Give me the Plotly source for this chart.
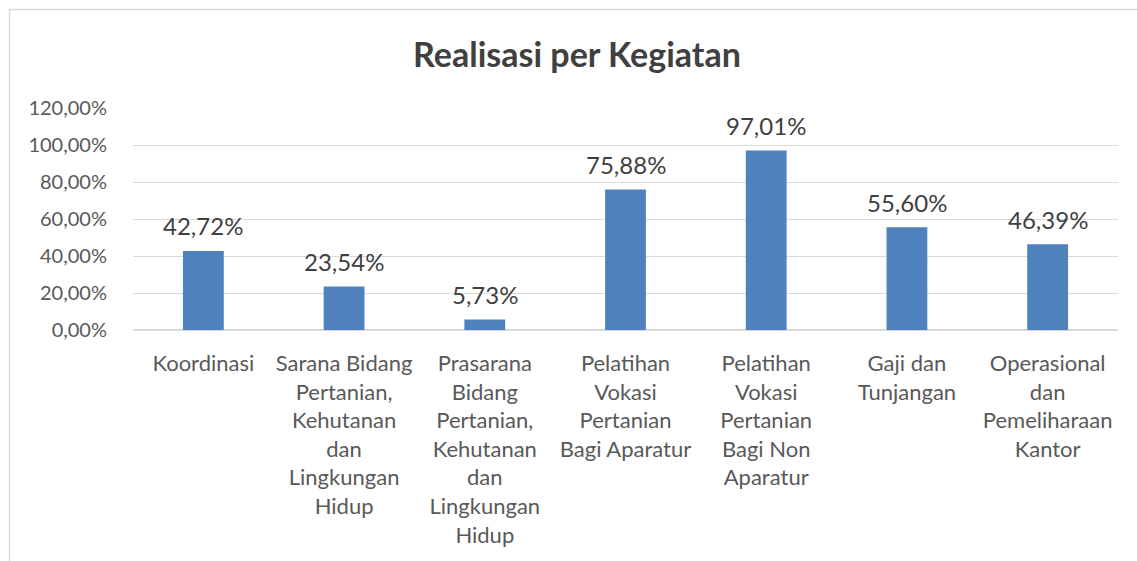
import plotly.graph_objects as go

categories = [
    "Koordinasi",
    "Sarana Bidang<br>Pertanian,<br>Kehutanan<br>dan<br>Lingkungan<br>Hidup",
    "Prasarana<br>Bidang<br>Pertanian,<br>Kehutanan<br>dan<br>Lingkungan<br>Hidup",
    "Pelatihan<br>Vokasi<br>Pertanian<br>Bagi Aparatur",
    "Pelatihan<br>Vokasi<br>Pertanian<br>Bagi Non<br>Aparatur",
    "Gaji dan<br>Tunjangan",
    "Operasional<br>dan<br>Pemeliharaan<br>Kantor",
]
values = [42.72, 23.54, 5.73, 75.88, 97.01, 55.60, 46.39]
y_ticks = [0, 20, 40, 60, 80, 100, 120]
y_tick_labels = [f"{t:.2f}".replace(".", ",") + "%" for t in y_ticks]
title_text = "Realisasi per Kegiatan"

FONT = "Lato"
W, H = 1137, 561
L, R, T, B = 133, 19, 108, 231
pw, ph = W - L - R, H - T - B

fig = go.Figure()
fig.add_trace(go.Bar(
    x=categories, y=values,
    marker=dict(color="#4F81BD", line=dict(width=0)),
    width=0.29,
    hoverinfo="skip",
))

annotations = []
for c, v in zip(categories, values):
    annotations.append(dict(
        x=c, y=v, xref="x", yref="y",
        text=f"{v:.2f}".replace(".", ",") + "%",
        showarrow=False, yanchor="middle", yshift=25,
        font=dict(family=FONT, size=24, color="#404040"),
    ))

def px_x(p):
    return (p - L) / pw

def px_y(p):
    return (H - B - p) / ph

fig.update_layout(
    width=W, height=H,
    margin=dict(l=L, r=R, t=T, b=B),
    paper_bgcolor="white", plot_bgcolor="white",
    separators=",.",
    showlegend=False,
    title=dict(text=f"<b>{title_text}</b>", x=577 / W, xref="container", xanchor="center",
               y=1 - 55 / H, yref="container", yanchor="middle",
               font=dict(family=FONT, size=34, color="#404040")),
    annotations=annotations,
    xaxis=dict(
        tickfont=dict(family=FONT, size=22, color="#595959"),
        showline=False, showgrid=False, ticks="", ticklen=0,
        tickangle=0, ticklabelstandoff=18,
    ),
    yaxis=dict(
        range=[0, 120], tickvals=y_ticks, ticktext=y_tick_labels,
        tickfont=dict(family=FONT, size=20, color="#595959"),
        showgrid=True, gridcolor="#d9d9d9", gridwidth=1,
        zeroline=True, zerolinecolor="#d9d9d9", zerolinewidth=1.5,
        showline=False, ticks="", ticklabelstandoff=25,
    ),
    shapes=[dict(
        type="rect", xref="paper", yref="paper",
        x0=px_x(9.5), x1=px_x(1145), y0=px_y(580), y1=px_y(9.5),
        line=dict(color="#d9d9d9", width=1.5), fillcolor="rgba(0,0,0,0)",
        layer="below",
    )],
)

fig.write_html("out.html", config={"displayModeBar": False},
               post_script="document.body.style.margin='0';document.body.style.padding='0';")
